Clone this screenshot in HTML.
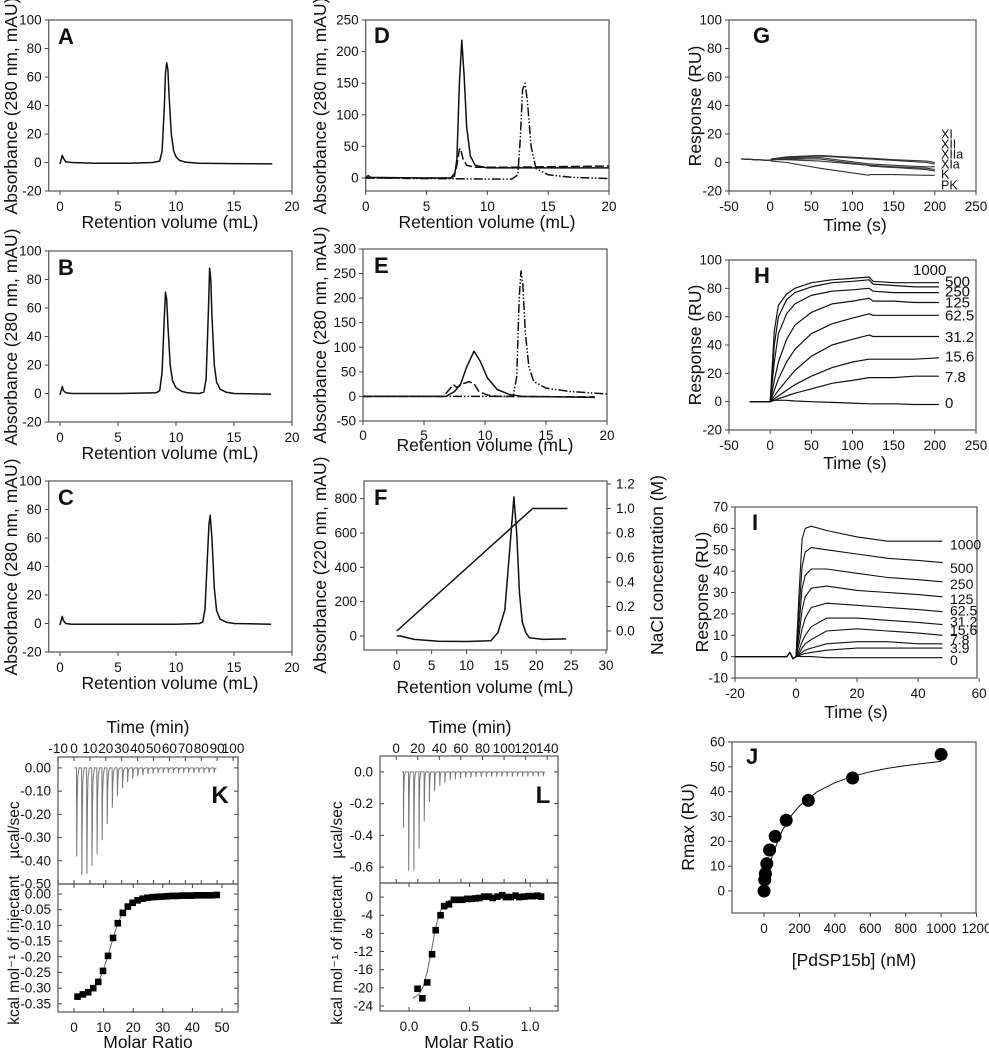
<!DOCTYPE html>
<html><head><meta charset="utf-8"><style>
html,body{margin:0;padding:0;background:#fff;}
svg{display:block;font-family:"Liberation Sans",Arial,sans-serif;}
</style></head><body>
<svg id="fig" width="989" height="1050" viewBox="0 0 989 1050" xmlns="http://www.w3.org/2000/svg"></svg>
<script>
// ---------- data ----------
const aX=[0,0.1,0.2,0.3,0.5,1,3,6,8,8.6,8.8,9.0,9.1,9.2,9.3,9.4,9.6,9.8,10,10.3,10.8,12,15,18.3];
const aY=[-1,2,5,3,0.5,0,-0.5,-0.5,0,1,8,40,63,70,65,48,20,8,4,1.5,0.3,-0.5,-0.8,-1];
const bX=[0,0.1,0.2,0.3,0.5,1,5,8.3,8.6,8.8,9.0,9.1,9.2,9.3,9.5,9.7,10,10.5,11,12,12.4,12.6,12.8,12.9,13.0,13.1,13.3,13.5,13.8,14.3,15,18.2];
const bY=[-1,2,5,2,0.5,0,0,0.5,2,15,55,71,66,48,20,9,4,1.5,0.5,0,1,10,60,88,80,55,20,8,3,1,0,-0.5];
const cX=[0,0.1,0.2,0.3,0.5,1,5,10,12,12.3,12.5,12.7,12.85,12.95,13.1,13.3,13.5,13.8,14.3,15,18.2];
const cY=[-1,2,5,2,0,-0.5,-0.5,-0.5,0,1,10,45,70,76,60,25,9,3,1,0,-0.5];
const dSolidX=[0,0.2,0.4,5,7,7.3,7.5,7.7,7.9,8.1,8.3,8.6,9,10,15,20];
const dSolidY=[0,4,1,0,0,3,30,150,218,160,80,35,20,16,16,16];
const dDashX=[0,7,7.4,7.7,7.8,8,8.3,9,12,20];
const dDashY=[0,0,10,45,47,30,20,17,17,19];
const dDotX=[0,5,12,12.5,12.7,12.9,13.1,13.3,13.6,14,15,17,20];
const dDotY=[0,-1,-2,5,60,140,150,120,50,15,5,1,-1];
const eSolidX=[0,6.8,7.5,8,8.5,9.1,9.6,10.2,11,12,13,19];
const eSolidY=[0,0,10,25,60,92,72,38,14,4,0,-2];
const eDashX=[0,6.6,7.1,7.4,7.7,8.2,8.7,9.1,9.5,10.2,11,19];
const eDashY=[0,0,15,24,18,26,30,26,10,3,0,-1];
const eDotX=[0,12.3,12.6,12.8,12.95,13.1,13.3,13.6,14,15,17,20];
const eDotY=[0,0,40,200,255,230,130,60,30,17,10,5];
const fX=[0,0.5,2.5,6,10,13.5,14.5,15.5,16.2,16.8,17.2,17.6,18,18.5,19,21,24.3];
const fY=[0,0,-20,-30,-32,-28,20,150,500,810,600,250,80,20,-10,-20,-17];
const fSaltX=[0,19.5,24.5];
const fSaltY=[0,1.0,1.0];
const gT=[-35,0,2,20,60,120,121,150,190,200];
const gSeries=[
 [2.5,1.5,2.5,4,5,3,3,2,1,0],
 [2.5,1.5,2.5,3.5,4.5,2.5,2.5,1.5,0,-1],
 [2.5,1.5,2,3,3.5,-1,-1,-2,-3,-3],
 [2.5,1.5,2,2.5,2.5,-2,-2,-3,-4,-5],
 [2.5,1.5,2,2,1,-2,-2.5,-3.5,-5,-6],
 [2.5,1.5,1,0,-4,-9,-8.5,-8.5,-9,-9]];
const gLabels=["XI","XII","XIIa","XIa","K","PK"];
const gLabelY=[19.6,12.6,5.6,-1.4,-8.4,-16];
const hT=[-25,0,5,10,20,30,50,75,100,120,125,150,175,205];
const hSeries=[
 [0,0,50,68,76,80,84,86,87,88,85,84,84,84],
 [0,0,40,60,72,77,81,84,85,86,83,82,81,81],
 [0,0,28,48,62,69,75,78,79,80,78,77,77,77],
 [0,0,15,28,44,54,63,69,71,73,71,71,70,70],
 [0,0,8,16,28,37,48,55,59,62,61,61,61,61],
 [0,0,4,8,15,22,32,40,44,47,46,46,46,46],
 [0,0,2,4,8,12,18,24,28,30,30,30,30,31],
 [0,0,1,2,4,6,9,13,15,17,17,17,18,18],
 [0,0,1,1,1,0.5,0,-0.5,-1,-1.5,-1.5,-1.5,-2,-2]];
const hLabels=["1000","500","250","125","62.5","31.2","15.6","7.8","0"];
const hLabelY=[93,85,77.6,70,61,45.6,32,17.5,-1];
const iT=[-20,-3,-2,-1,0,1,2,3,5,10,20,30,40,48];
const iSeries=[
 [0,0,2,-1,0,30,55,60,61,59,56,54,54,54],
 [0,0,2,-1,0,22,42,49,51,50,48,46,45,44],
 [0,0,2,-1,0,15,32,38,41,41,39,37,36,35],
 [0,0,2,-1,0,10,22,28,32,33,31,30,29,28],
 [0,0,2,-1,0,6,13,18,23,25,24,23,22,21],
 [0,0,2,-1,0,3,7,10,14,18,18,17,16,15],
 [0,0,2,-1,0,1.5,4,6,8,12,13,12,11,10],
 [0,0,2,-1,0,1,2,3,4,6,7,7,6,6],
 [0,0,2,-1,0,0.5,1,1.5,2,3,4,4,4,4],
 [0,0,2,-1,0,0,0,0,0,-0.5,-0.5,-0.5,-0.5,-0.5]];
const iLabels=["1000","500","250","125","62.5","31.2","15.6","7.8","3.9","0"];
const iLabelY=[52.5,41.5,34,27,21.5,16.5,12.5,8,4,-1.5];
const jConc=[0,3.9,7.8,15.6,31.2,62.5,125,250,500,1000];
const jRmax=[0,4.5,7,11,16.5,22,28.5,36.5,45.5,55];
const jFitX=[0,25,50,100,150,200,300,400,500,600,700,800,900,1000];
const jFitY=[0,8.6,15,24,30,34.3,40,43.6,46.2,48,49.4,50.5,51.4,52.2];
const kInjT=[1.7,4.9,8.1,11.3,14.5,17.7,20.9,24.1,27.3,30.5,33.7,36.9,40.1,43.3,46.5,49.7,52.9,56.1,59.3,62.5,65.7,68.9,72.1,75.3,78.5,81.7,84.9,88.1];
const kInjD=[-0.38,-0.46,-0.455,-0.42,-0.37,-0.31,-0.24,-0.17,-0.12,-0.085,-0.06,-0.045,-0.035,-0.03,-0.026,-0.024,-0.022,-0.021,-0.02,-0.02,-0.02,-0.02,-0.02,-0.02,-0.02,-0.02,-0.02,-0.02];
const kRatio=[1.2,3,4.8,6.5,8.2,9.8,11.5,13.2,14.8,16.5,18.2,19.8,21.5,23.2,24.8,26.5,28.2,29.8,31.5,33.2,34.8,36.5,38.2,39.8,41.5,43.2,44.8,46.5,48.2];
const kHeat=[-0.327,-0.32,-0.313,-0.30,-0.28,-0.245,-0.197,-0.14,-0.093,-0.06,-0.04,-0.028,-0.02,-0.015,-0.012,-0.01,-0.009,-0.008,-0.007,-0.006,-0.006,-0.005,-0.005,-0.005,-0.004,-0.004,-0.004,-0.004,-0.003];
const lInjT=[6.8,11.6,16.4,21.2,26,30.8,35.6,40.4,45.2,50,54.8,59.6,64.4,69.2,74,78.8,83.6,88.4,93.2,98,102.8,107.6,112.4,117.2,122,126.8,131.6,136.4];
const lInjD=[-0.35,-0.62,-0.62,-0.48,-0.31,-0.19,-0.12,-0.085,-0.065,-0.05,-0.045,-0.04,-0.035,-0.035,-0.03,-0.03,-0.03,-0.028,-0.028,-0.028,-0.027,-0.027,-0.027,-0.027,-0.026,-0.026,-0.026,-0.026];
const lRatio=[0.07,0.11,0.15,0.19,0.22,0.26,0.29,0.33,0.37,0.40,0.44,0.48,0.51,0.55,0.58,0.62,0.66,0.69,0.73,0.77,0.80,0.84,0.88,0.91,0.95,0.99,1.02,1.06,1.09];
const lHeat=[-20.2,-22.3,-18.8,-12.6,-7.3,-4,-2,-1.6,-0.6,-0.6,-0.6,-0.4,-0.4,-0.3,-0.2,0.1,0.1,-0.2,0.1,0.4,0,0,0.3,0,0.1,0.2,0.2,0.3,0.1];
const lFitX=[0.03,0.08,0.12,0.15,0.18,0.21,0.24,0.27,0.30,0.35,0.45,1.08];
const lFitY=[-22.3,-21.5,-19.5,-16.5,-12.5,-8,-4.5,-2.3,-1.2,-0.5,-0.2,0];

// ---------- helpers ----------
const NS="http://www.w3.org/2000/svg";
const svg=document.getElementById('fig');
function lin(d0,d1,r0,r1){return v=>r0+(v-d0)*(r1-r0)/(d1-d0);}
function mk(tag,attrs,name,parent){
  const el=document.createElementNS(NS,tag);
  for(const k in attrs) el.setAttribute(k,attrs[k]);
  
  
  (parent||svg).appendChild(el);return el;
}
function txt(x,y,s,size,name,opt){
  opt=opt||{};
  const t=mk('text',{x:x,y:y,'font-size':size,'text-anchor':opt.anchor||'middle',fill:'#111','font-weight':opt.bold?'bold':'normal'},name);
  if(opt.rot) t.setAttribute('transform','rotate(-90 '+x+' '+y+')');
  t.textContent=s;return t;
}
function panel(c){
  const sx=lin(c.xd[0],c.xd[1],c.x0,c.x1), sy=lin(c.yd[0],c.yd[1],c.y1,c.y0);
  mk('rect',{x:c.x0,y:c.y0,width:c.x1-c.x0,height:c.y1-c.y0,fill:'none',stroke:'#555','stroke-width':1.2},c.id+'-plot-frame');
  const tl=c.inTicks?-4:4;
  (c.xt||[]).forEach((v,i)=>{
    const X=sx(v);
    mk('line',{x1:X,x2:X,y1:c.y1,y2:c.y1+tl,stroke:'#444'},c.id+'-x-tick');
    if(c.inTicks) mk('line',{x1:X,x2:X,y1:c.y0,y2:c.y0+4,stroke:'#444'},c.id+'-x-tick-top');
    if(c.xl) txt(X,c.y1+(c.xlOff||20),c.xl[i],13.5,c.id+'-x-tick-label');
  });
  (c.yt||[]).forEach((v,i)=>{
    const Y=sy(v);
    mk('line',{x1:c.x0-tl,x2:c.x0,y1:Y,y2:Y,stroke:'#444'},c.id+'-y-tick');
    if(c.inTicks) mk('line',{x1:c.x1-4,x2:c.x1,y1:Y,y2:Y,stroke:'#444'},c.id+'-y-tick-right');
    txt(c.x0-7,Y+4.5,c.yl[i],13.5,c.id+'-y-tick-label',{anchor:'end'});
  });
  return {sx,sy};
}
function trace(s,xs,ys,name,style){
  const pts=xs.map((x,i)=>s.sx(x).toFixed(1)+','+s.sy(ys[i]).toFixed(1)).join(' ');
  return mk('polyline',Object.assign({points:pts,fill:'none',stroke:'#111','stroke-width':1.5,'stroke-linejoin':'round'},style||{}),name);
}
const DASH={'stroke-dasharray':'9,3'}, DDOT={'stroke-dasharray':'9,2,1.5,2,1.5,2'};
const rvT=[0,5,10,15,20], rvL=["0","5","10","15","20"];
const absT=[-20,0,20,40,60,80,100], absL=["-20","0","20","40","60","80","100"];
const ABS="Absorbance (280 nm, mAU)", RV="Retention volume (mL)";

// ---------- A, B, C ----------
[[aX,aY,20,'A','a'],[bX,bY,251,'B','b'],[cX,cY,481,'C','c']].forEach(([xs,ys,top,L,id])=>{
  const s=panel({id:'panel-'+id,x0:48.7,x1:292,y0:top,y1:top+171,xd:[-0.97,20],yd:[-20,100],xt:rvT,xl:rvL,yt:absT,yl:absL});
  trace(s,xs,ys,'panel-'+id+'-trace');
  txt(58,top+24,L,22,'panel-'+id+'-letter',{anchor:'start',bold:true});
  txt(17,top+86,ABS,17.5,'panel-'+id+'-y-title',{rot:true});
  txt(170,top+208,RV,17.5,'panel-'+id+'-x-title');
});

// ---------- D ----------
{
 const s=panel({id:'panel-d',x0:365.7,x1:609,y0:20,y1:191,xd:[0,20],yd:[-20.6,250],xt:rvT,xl:rvL,yt:[0,50,100,150,200,250],yl:["0","50","100","150","200","250"]});
 trace(s,dDotX,dDotY,'panel-d-dashdot-trace',DDOT);
 trace(s,dDashX,dDashY,'panel-d-dashed-trace',DASH);
 trace(s,dSolidX,dSolidY,'panel-d-solid-trace');
 txt(374,43,'D',22,'panel-d-letter',{anchor:'start',bold:true});
 txt(326,106,ABS,17.5,'panel-d-y-title',{rot:true});
 txt(487,228,RV,17.5,'panel-d-x-title');
}
// ---------- E ----------
{
 const s=panel({id:'panel-e',x0:363,x1:607,y0:249,y1:421,xd:[0,20],yd:[-50,300],xt:rvT,xl:rvL,xlOff:19,yt:[-50,0,50,100,150,200,250,300],yl:["-50","0","50","100","150","200","250","300"]});
 trace(s,eDotX,eDotY,'panel-e-dashdot-trace',DDOT);
 trace(s,eDashX,eDashY,'panel-e-dashed-trace',DASH);
 trace(s,eSolidX,eSolidY,'panel-e-solid-trace');
 txt(374,273,'E',22,'panel-e-letter',{anchor:'start',bold:true});
 txt(326,335,ABS,17.5,'panel-e-y-title',{rot:true});
 txt(485,451,RV,17.5,'panel-e-x-title');
}
// ---------- F ----------
{
 const s=panel({id:'panel-f',x0:364,x1:607,y0:481,y1:650,xd:[-4.7,30.15],yd:[-81.5,902.7],xt:[0,5,10,15,20,25,30],xl:["0","5","10","15","20","25","30"],yt:[0,200,400,600,800],yl:["0","200","400","600","800"]});
 const sy2=lin(-0.155,1.224,650,481);
 [0,0.2,0.4,0.6,0.8,1.0,1.2].forEach(v=>{
   const Y=sy2(v);
   mk('line',{x1:607,x2:611,y1:Y,y2:Y,stroke:'#444'},'panel-f-right-y-tick');
   txt(616,Y+4.5,v.toFixed(1),13.5,'panel-f-right-y-tick-label',{anchor:'start'});
 });
 trace(s,fX,fY,'panel-f-absorbance-trace');
 trace({sx:s.sx,sy:sy2},fSaltX,fSaltY,'panel-f-nacl-gradient');
 txt(374,505,'F',22,'panel-f-letter',{anchor:'start',bold:true});
 txt(326,565,'Absorbance (220 nm, mAU)',17.5,'panel-f-y-title',{rot:true});
 txt(663,565,'NaCl concentration (M)',17.5,'panel-f-right-y-title',{rot:true});
 txt(485,693,RV,17.5,'panel-f-x-title');
}
// ---------- G ----------
const tT=[-50,0,50,100,150,200,250], tL=["-50","0","50","100","150","200","250"];
const ruT=[-20,0,20,40,60,80,100], ruL=["-20","0","20","40","60","80","100"];
{
 const s=panel({id:'panel-g',x0:729,x1:976,y0:20,y1:191,xd:[-50,250],yd:[-20,100],xt:tT,xl:tL,yt:ruT,yl:ruL});
 gSeries.forEach((ys,i)=>{trace(s,gT,ys,'panel-g-trace-'+gLabels[i],{'stroke-width':1.1,stroke:'#333'});});
 gLabels.forEach((l,i)=>{txt(941,s.sy(gLabelY[i])+4,l,12.5,'panel-g-series-label',{anchor:'start'});});
 txt(753,43,'G',22,'panel-g-letter',{anchor:'start',bold:true});
 txt(701,106,'Response (RU)',17.5,'panel-g-y-title',{rot:true});
 txt(855,231,'Time (s)',17.5,'panel-g-x-title');
}
// ---------- H ----------
{
 const s=panel({id:'panel-h',x0:729,x1:976,y0:260,y1:430,xd:[-50,250],yd:[-20,100],xt:tT,xl:tL,yt:ruT,yl:ruL});
 hSeries.forEach((ys,i)=>{trace(s,hT,ys,'panel-h-trace-'+hLabels[i],{'stroke-width':1.2});});
 hLabels.forEach((l,i)=>{txt(i==0?913:945,s.sy(hLabelY[i])+5,l,15,'panel-h-concentration-label',{anchor:'start'});});
 txt(754,283,'H',22,'panel-h-letter',{anchor:'start',bold:true});
 txt(701,345,'Response (RU)',17.5,'panel-h-y-title',{rot:true});
 txt(855,469,'Time (s)',17.5,'panel-h-x-title');
}
// ---------- I ----------
{
 const s=panel({id:'panel-i',x0:735,x1:977,y0:507,y1:678,xd:[-20,59.3],yd:[-10,70],xt:[-20,0,20,40,60],xl:["-20","0","20","40","60"],yt:[-10,0,10,20,30,40,50,60,70],yl:["-10","0","10","20","30","40","50","60","70"]});
 iSeries.forEach((ys,i)=>{trace(s,iT,ys,'panel-i-trace-'+iLabels[i],{'stroke-width':1.1});});
 iLabels.forEach((l,i)=>{txt(950,s.sy(iLabelY[i])+5,l,14,'panel-i-concentration-label',{anchor:'start'});});
 txt(752,530,'I',22,'panel-i-letter',{anchor:'start',bold:true});
 txt(708,592,'Response (RU)',17.5,'panel-i-y-title',{rot:true});
 txt(856,718,'Time (s)',17.5,'panel-i-x-title');
}
// ---------- J ----------
{
 const s=panel({id:'panel-j',x0:732,x1:976,y0:742,y1:913,xd:[-181,1197],yd:[-8.86,60],xt:[0,200,400,600,800,1000,1200],xl:["0","200","400","600","800","1000","1200"],yt:[0,10,20,30,40,50,60],yl:["0","10","20","30","40","50","60"]});
 trace(s,jFitX,jFitY,'panel-j-fit-curve',{'stroke-width':1});
 jConc.forEach((c,i)=>{mk('circle',{cx:s.sx(c),cy:s.sy(jRmax[i]),r:6.5,fill:'#000'},'panel-j-data-point');});
 txt(746,764,'J',22,'panel-j-letter',{anchor:'start',bold:true});
 txt(694,827,'Rmax (RU)',17.5,'panel-j-y-title',{rot:true});
 txt(854,966,'[PdSP15b] (nM)',17.5,'panel-j-x-title');
}
// ---------- ITC helper ----------
function itcRaw(s,ts,ds,name){
  const xs=[],ys=[];
  xs.push(ts[0]-1.5);ys.push(0);
  ts.forEach((t,i)=>{const d=ds[i];xs.push(t-0.15,t,t+0.3,t+0.7,t+1.5);ys.push(0,d,d*0.4,d*0.1,0);});
  trace(s,xs,ys,name,{'stroke-width':1,stroke:'#777'});
}
// ---------- K ----------
{
 const s=panel({id:'panel-k-raw',x0:58,x1:238,y0:757,y1:884,xd:[-10.06,103.1],yd:[-0.5,0.047],xt:[-10,0,10,20,30,40,50,60,70,80,90,100],xl:null,inTicks:true,yt:[-0.5,-0.4,-0.3,-0.2,-0.1,0],yl:["-0.50","-0.40","-0.30","-0.20","-0.10","0.00"]});
 [["-10",-10],["0",0],["10",10],["20",20],["30",30],["40",40],["50",50],["60",60],["70",70],["80",80],["90",90],["100",100]].forEach(([l,v])=>txt(s.sx(v),753,l,13.5,'panel-k-time-tick-label'));
 itcRaw(s,kInjT,kInjD,'panel-k-raw-thermogram');
 const b=panel({id:'panel-k-binding',x0:58,x1:238,y0:884,y1:1012,xd:[-5.4,55.4],yd:[-0.376,0.032],xt:[0,10,20,30,40,50],xl:["0","10","20","30","40","50"],inTicks:true,yt:[-0.35,-0.3,-0.25,-0.2,-0.15,-0.1,-0.05,0],yl:["-0.35","-0.30","-0.25","-0.20","-0.15","-0.10","-0.05","0.00"]});
 trace(b,kRatio,kHeat,'panel-k-fit-curve',{'stroke-width':1,stroke:'#666'});
 kRatio.forEach((r,i)=>{const X=b.sx(r),Y=b.sy(kHeat[i]);mk('rect',{x:X-3.3,y:Y-3.3,width:6.6,height:6.6,fill:'#000'},'panel-k-data-point');});
 txt(220,803,'K',24,'panel-k-letter',{anchor:'middle',bold:true});
 txt(148,733,'Time (min)',17.5,'panel-k-top-x-title');
 txt(148,1048,'Molar Ratio',17.5,'panel-k-x-title');
 txt(19,830,'µcal/sec',15.5,'panel-k-raw-y-title',{rot:true});
 txt(19,950,'kcal mol⁻¹ of injectant',15.5,'panel-k-binding-y-title',{rot:true});
}
// ---------- L ----------
{
 const s=panel({id:'panel-l-raw',x0:380,x1:558,y0:756,y1:883,xd:[-15,150],yd:[-0.70,0.10],xt:[0,20,40,60,80,100,120,140],xl:null,inTicks:true,yt:[-0.6,-0.4,-0.2,0],yl:["-0.6","-0.4","-0.2","0.0"]});
 [0,20,40,60,80,100,120,140].forEach(v=>txt(s.sx(v),753,String(v),13.5,'panel-l-time-tick-label'));
 itcRaw(s,lInjT,lInjD,'panel-l-raw-thermogram');
 const b=panel({id:'panel-l-binding',x0:380,x1:558,y0:883,y1:1011,xd:[-0.24,1.23],yd:[-25.1,3.1],xt:[0,0.5,1.0],xl:["0.0","0.5","1.0"],inTicks:true,yt:[-24,-20,-16,-12,-8,-4,0],yl:["-24","-20","-16","-12","-8","-4","0"]});
 trace(b,lFitX,lFitY,'panel-l-fit-curve',{'stroke-width':1,stroke:'#666'});
 lRatio.forEach((r,i)=>{const X=b.sx(r),Y=b.sy(lHeat[i]);mk('rect',{x:X-3.3,y:Y-3.3,width:6.6,height:6.6,fill:'#000'},'panel-l-data-point');});
 txt(543,803,'L',24,'panel-l-letter',{anchor:'middle',bold:true});
 txt(470,733,'Time (min)',17.5,'panel-l-top-x-title');
 txt(469,1048,'Molar Ratio',17.5,'panel-l-x-title');
 txt(342,830,'µcal/sec',15.5,'panel-l-raw-y-title',{rot:true});
 txt(342,950,'kcal mol⁻¹ of injectant',15.5,'panel-l-binding-y-title',{rot:true});
}
</script>
</body></html>
